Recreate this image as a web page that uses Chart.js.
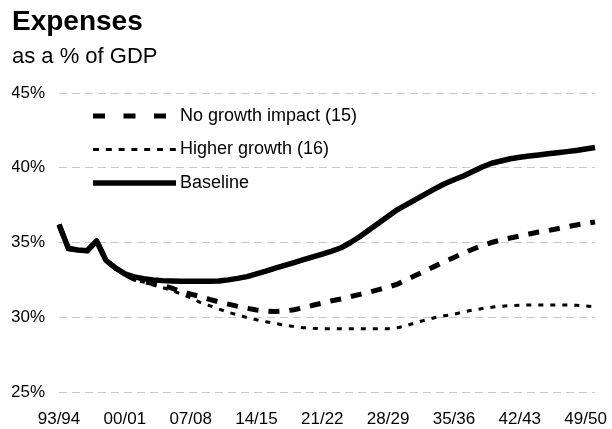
<!DOCTYPE html>
<html>
<head>
<meta charset="utf-8">
<script src="https://cdn.jsdelivr.net/npm/chart.js@4.4.1/dist/chart.umd.min.js"></script>
<style>
  html, body { margin: 0; padding: 0; background: #ffffff; }
  #wrap { width: 612px; height: 429px; }
</style>
</head>
<body>
<div id="wrap"><canvas id="chart" width="612" height="429"></canvas></div>
<script>
// Fiscal years on the category axis
const years = [
  '93/94','94/95','95/96','96/97','97/98','98/99','99/00','00/01','01/02','02/03',
  '03/04','04/05','05/06','06/07','07/08','08/09','09/10','10/11','11/12','12/13',
  '13/14','14/15','15/16','16/17','17/18','18/19','19/20','20/21','21/22','22/23',
  '23/24','24/25','25/26','26/27','27/28','28/29','29/30','30/31','31/32','32/33',
  '33/34','34/35','35/36','36/37','37/38','38/39','39/40','40/41','41/42','42/43',
  '43/44','44/45','45/46','46/47','47/48','48/49','49/50','50/51'
];

// Expenses, % of GDP
const baseline = [
  36.2, 34.6, 34.5, 34.45, 35.1, 33.8, 33.3, 32.9, 32.7, 32.58,
  32.5, 32.45, 32.42, 32.4, 32.4, 32.4, 32.4, 32.42, 32.5, 32.6,
  32.72, 32.9, 33.08, 33.28, 33.47, 33.66, 33.85, 34.04, 34.23, 34.42,
  34.65, 35.0, 35.4, 35.85, 36.3, 36.75, 37.2, 37.55, 37.9, 38.25,
  38.6, 38.93, 39.2, 39.45, 39.75, 40.05, 40.3, 40.45, 40.6, 40.7,
  40.78, 40.85, 40.93, 41.0, 41.08, 41.16, 41.25, 41.35
];

const noGrowthImpact = [
  36.2, 34.6, 34.5, 34.45, 35.1, 33.8, 33.3, 32.85, 32.55, 32.38,
  32.25, 32.13, 31.95, 31.72, 31.55, 31.39, 31.2, 31.03, 30.88, 30.73,
  30.6, 30.48, 30.42, 30.38, 30.42, 30.5, 30.64, 30.8, 30.95, 31.1,
  31.22, 31.38, 31.53, 31.68, 31.85, 32.02, 32.22, 32.52, 32.82, 33.12,
  33.42, 33.72, 34.0, 34.28, 34.55, 34.8, 35.0, 35.17, 35.3, 35.43,
  35.57, 35.7, 35.8, 35.92, 36.05, 36.17, 36.28, 36.37
];

const higherGrowth = [
  36.2, 34.6, 34.5, 34.45, 35.1, 33.8, 33.3, 32.8, 32.55, 32.35,
  32.15, 31.98, 31.8, 31.55, 31.3, 31.0, 30.78, 30.55, 30.33, 30.15,
  29.98, 29.83, 29.7, 29.58, 29.47, 29.37, 29.3, 29.26, 29.24, 29.23,
  29.23, 29.23, 29.23, 29.23, 29.23, 29.23, 29.3, 29.45, 29.65, 29.82,
  29.98, 30.1, 30.2, 30.35, 30.48, 30.58, 30.67, 30.73, 30.78, 30.8,
  30.82, 30.82, 30.82, 30.82, 30.82, 30.8, 30.75, 30.7
];

const seriesNames = ['No growth impact (15)', 'Higher growth (16)', 'Baseline'];
const yMin = 25, yMax = 45, yStep = 5;
const labelEvery = 7;

const FONT = "'Liberation Sans', Arial, Helvetica, sans-serif";

// Legend drawn inside the plot, top-left
const insideLegend = {
  id: 'insideLegend',
  afterDraw(chart) {
    const ctx = chart.ctx;
    const x0 = 93, x1 = 176, tx = 180;
    const rows = [116, 149.5, 183];
    ctx.save();
    chart.data.datasets.forEach((ds, i) => {
      const y = rows[i];
      ctx.beginPath();
      ctx.setLineDash(ds.legendDash || []);
      ctx.lineWidth = ds.borderWidth;
      ctx.strokeStyle = ds.borderColor;
      ctx.lineCap = 'butt';
      ctx.moveTo(x0, y);
      ctx.lineTo(x1, y);
      ctx.stroke();
      ctx.setLineDash([]);
      ctx.fillStyle = '#000';
      ctx.font = '18px ' + FONT;
      ctx.textAlign = 'left';
      ctx.textBaseline = 'middle';
      ctx.fillText(ds.label, tx, y);
    });
    ctx.restore();
  }
};

new Chart(document.getElementById('chart'), {
  type: 'line',
  data: {
    labels: years,
    datasets: [
      {
        label: seriesNames[0],
        data: noGrowthImpact,
        borderColor: '#000',
        borderWidth: 5,
        borderDash: [11, 10],
        legendDash: [12, 18.5],
        pointRadius: 0,
        tension: 0,
        order: 1
      },
      {
        label: seriesNames[1],
        data: higherGrowth,
        borderColor: '#000',
        borderWidth: 3,
        borderDash: [5, 7],
        legendDash: [6, 6.8],
        pointRadius: 0,
        tension: 0,
        order: 2
      },
      {
        label: seriesNames[2],
        data: baseline,
        borderColor: '#000',
        borderWidth: 5.5,
        borderJoinStyle: 'round',
        pointRadius: 0,
        tension: 0,
        order: 0
      }
    ]
  },
  options: {
    responsive: false,
    devicePixelRatio: 1,
    animation: false,
    events: [],
    layout: { padding: { left: 12, right: 11, top: 0, bottom: 0 } },
    plugins: {
      legend: { display: false },
      tooltip: { enabled: false },
      title: {
        display: true,
        text: 'Expenses',
        align: 'start',
        color: '#000',
        font: { family: FONT, size: 28, weight: 'bold' },
        padding: { top: 5, bottom: 0 }
      },
      subtitle: {
        display: true,
        text: 'as a % of GDP',
        align: 'start',
        color: '#000',
        font: { family: FONT, size: 22, weight: 'normal' },
        padding: { top: 5, bottom: 23 }
      }
    },
    scales: {
      x: {
        type: 'category',
        offset: false,
        grid: { display: false, drawTicks: false },
        border: { display: false },
        ticks: {
          autoSkip: false,
          maxRotation: 0,
          minRotation: 0,
          padding: 17,
          color: '#000',
          font: { family: FONT, size: 17 },
          callback: function (value, index) {
            return index % labelEvery === 0 ? this.getLabelForValue(value) : '';
          }
        },
        afterFit: (scale) => { scale.height = 37; }
      },
      y: {
        min: yMin,
        max: yMax,
        grid: { color: '#c8c8c8', lineWidth: 1, drawTicks: false },
        border: { display: false, dash: [8, 5] },
        ticks: {
          stepSize: yStep,
          padding: 14,
          color: '#000',
          font: { family: FONT, size: 17 },
          callback: (v) => v + '%'
        },
        afterFit: (scale) => { scale.width = 47; }
      }
    }
  },
  plugins: [insideLegend]
});
</script>
</body>
</html>
